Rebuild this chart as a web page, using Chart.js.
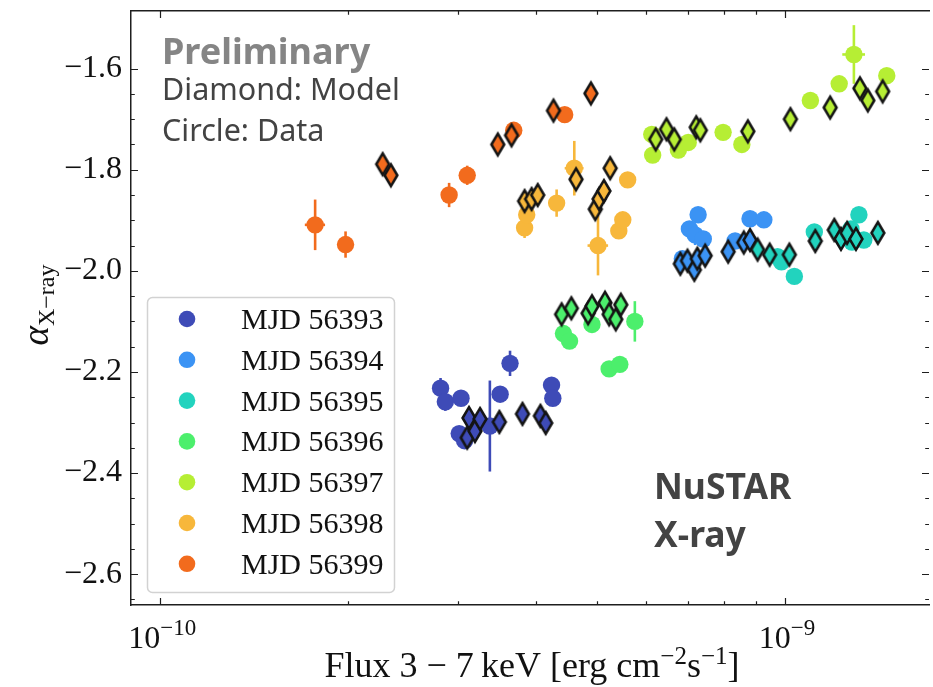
<!DOCTYPE html>
<html>
<head>
<meta charset="utf-8">
<script src="https://cdn.jsdelivr.net/npm/chart.js@4.4.1/dist/chart.umd.min.js"></script>
<style>
  html, body { margin: 0; padding: 0; background: #fff; overflow: hidden; width: 933px; height: 687px; }
  canvas { display: block; }
</style>
</head>
<body>
<canvas id="chart" width="940" height="687"></canvas>
<script>
// Observation days and their colours
const days = ['MJD 56393', 'MJD 56394', 'MJD 56395', 'MJD 56396', 'MJD 56397', 'MJD 56398', 'MJD 56399'];
const dayColors = ['#3e4bb7', '#3b93f4', '#22d3be', '#4cef6c', '#b6ee34', '#f7b73b', '#f26b1d'];

// Measured points: [flux 3-7 keV, alpha, alpha error, flux error]
const data56393 = [
  [2.81e-10, -2.232, 0.020, 0], [2.86e-10, -2.259, 0.018, 0], [3.03e-10, -2.252, 0.015, 0],
  [3.01e-10, -2.322, 0.012, 0], [3.07e-10, -2.336, 0.015, 0], [3.37e-10, -2.307, 0.090, 0],
  [3.50e-10, -2.244, 0.012, 0], [3.63e-10, -2.183, 0.025, 0], [4.23e-10, -2.226, 0.010, 0],
  [4.25e-10, -2.252, 0.012, 0]
];
const data56394 = [
  [7.26e-10, -1.889, 0, 0], [7.03e-10, -1.917, 0, 0], [7.18e-10, -1.929, 0.020, 0],
  [7.40e-10, -1.937, 0, 0], [6.85e-10, -1.976, 0, 0], [8.32e-10, -1.941, 0, 0],
  [8.79e-10, -1.897, 0, 0], [9.25e-10, -1.899, 0, 0]
];
const data56395 = [
  [9.73e-10, -1.972, 0, 0], [9.87e-10, -1.982, 0, 0], [10.35e-10, -2.011, 0, 0],
  [11.14e-10, -1.923, 0, 0], [12.75e-10, -1.917, 0, 0], [12.80e-10, -1.943, 0, 0],
  [13.13e-10, -1.889, 0, 0], [13.37e-10, -1.939, 0, 0]
];
const data56396 = [
  [4.42e-10, -2.124, 0, 0], [4.52e-10, -2.139, 0, 0], [4.91e-10, -2.106, 0, 0],
  [5.23e-10, -2.194, 0, 0], [5.44e-10, -2.185, 0, 0], [5.75e-10, -2.100, 0.040, 0]
];
const data56397 = [
  [6.12e-10, -1.730, 0, 0], [6.14e-10, -1.771, 0, 0], [6.75e-10, -1.761, 0, 0],
  [7.00e-10, -1.746, 0, 0], [7.96e-10, -1.726, 0, 0], [8.53e-10, -1.750, 0, 0],
  [10.98e-10, -1.663, 0, 0], [12.21e-10, -1.630, 0, 0], [12.89e-10, -1.572, 0.058, 0.54e-10],
  [14.55e-10, -1.614, 0, 0]
];
const data56398 = [
  [3.83e-10, -1.915, 0.020, 0], [3.86e-10, -1.889, 0, 0], [4.31e-10, -1.866, 0.027, 0],
  [4.60e-10, -1.797, 0.054, 0.16e-10], [5.02e-10, -1.950, 0.059, 0.19e-10], [5.42e-10, -1.921, 0, 0],
  [5.50e-10, -1.899, 0, 0], [5.60e-10, -1.820, 0, 0]
];
const data56399 = [
  [1.77e-10, -1.909, 0.050, 0.066e-10], [1.98e-10, -1.948, 0.026, 0], [2.90e-10, -1.850, 0.024, 0],
  [3.10e-10, -1.811, 0.019, 0], [3.68e-10, -1.722, 0.010, 0], [4.44e-10, -1.691, 0, 0]
];

// Model points: [flux 3-7 keV, alpha]
const model56393 = [
  [3.10e-10, -2.330], [3.12e-10, -2.291], [3.19e-10, -2.317], [3.25e-10, -2.293],
  [3.49e-10, -2.299], [3.80e-10, -2.283], [4.06e-10, -2.287], [4.14e-10, -2.301]
];
const model56394 = [
  [6.80e-10, -1.986], [6.98e-10, -1.980], [7.16e-10, -1.998], [7.24e-10, -1.976],
  [7.45e-10, -1.970], [8.11e-10, -1.962], [8.59e-10, -1.944], [8.79e-10, -1.939]
];
const model56395 = [
  [9.04e-10, -1.958], [9.45e-10, -1.968], [10.16e-10, -1.968], [11.18e-10, -1.941],
  [11.99e-10, -1.919], [12.29e-10, -1.937], [12.57e-10, -1.925], [12.99e-10, -1.937],
  [14.08e-10, -1.925]
];
const model56396 = [
  [4.39e-10, -2.086], [4.55e-10, -2.074], [4.84e-10, -2.084], [4.91e-10, -2.070],
  [5.15e-10, -2.063], [5.23e-10, -2.086], [5.36e-10, -2.096], [5.46e-10, -2.067]
];
const model56397 = [
  [6.21e-10, -1.740], [6.46e-10, -1.720], [6.65e-10, -1.740], [7.21e-10, -1.716],
  [7.32e-10, -1.722], [8.72e-10, -1.724], [10.20e-10, -1.700], [11.81e-10, -1.677],
  [13.18e-10, -1.639], [13.57e-10, -1.663], [14.33e-10, -1.645]
];
const model56398 = [
  [3.83e-10, -1.862], [3.93e-10, -1.858], [4.02e-10, -1.850], [4.63e-10, -1.819],
  [4.97e-10, -1.878], [5.04e-10, -1.858], [5.13e-10, -1.842], [5.25e-10, -1.797]
];
const model56399 = [
  [2.27e-10, -1.789], [2.34e-10, -1.811], [3.47e-10, -1.750], [3.65e-10, -1.732],
  [4.26e-10, -1.683], [4.89e-10, -1.649]
];

const measuredByDay = [data56393, data56394, data56395, data56396, data56397, data56398, data56399];
const modelByDay = [model56393, model56394, model56395, model56396, model56397, model56398, model56399];

// Axis ranges and ticks
const fluxMin = 0.898e-10, fluxMax = 17.0e-10;
const alphaMin = -2.661, alphaMax = -1.486;
const alphaTicks = [-2.6, -2.4, -2.2, -2.0, -1.8, -1.6];
const fluxMajorTicks = [1e-10, 1e-9];
const fluxTickExponents = ['\u221210', '\u22129'];

const SERIF = "'Liberation Serif', 'Times New Roman', serif";
const SANS = "'Noto Sans', 'Open Sans', sans-serif";
const AXIS_COLOR = '#1e1e1e';

// Thin diamond marker with a black edge
function diamondMarker(fill) {
  const w = 22, h = 32;
  const c = document.createElement('canvas');
  c.width = w; c.height = h;
  const g = c.getContext('2d');
  const hw = 6.4, hh = 10.8, cx = w / 2, cy = h / 2;
  g.beginPath();
  g.moveTo(cx, cy - hh); g.lineTo(cx + hw, cy); g.lineTo(cx, cy + hh); g.lineTo(cx - hw, cy);
  g.closePath();
  g.fillStyle = fill; g.fill();
  g.lineJoin = 'miter'; g.lineWidth = 2.6; g.strokeStyle = '#141414'; g.stroke();
  return c;
}

const datasets = [];
let drawIndex = 0;
days.forEach((day, i) => {
  const rows = measuredByDay[i];
  datasets.push({
    label: day,
    data: rows.map(r => ({ x: r[0], y: r[1] })),
    errors: rows.map(r => ({ dy: r[2], dx: r[3] })),
    backgroundColor: dayColors[i],
    borderWidth: 0,
    pointRadius: 8.7,
    pointStyle: 'circle',
    order: 100 - (drawIndex++)
  });
  datasets.push({
    label: day + ' model',
    data: modelByDay[i].map(r => ({ x: r[0], y: r[1] })),
    backgroundColor: dayColors[i],
    pointStyle: diamondMarker(dayColors[i]),
    pointRadius: 10,
    order: 100 - (drawIndex++)
  });
});

// Draw a run of text pieces (plain, superscript, subscript) starting at x on baseline y
function richWidth(ctx, parts) {
  let w = 0;
  parts.forEach(p => { ctx.font = p.font; w += ctx.measureText(p.text).width; });
  return w;
}
function drawRich(ctx, parts, x, y, align) {
  let cx = align === 'center' ? x - richWidth(ctx, parts) / 2 : x;
  ctx.textAlign = 'left';
  ctx.textBaseline = 'alphabetic';
  parts.forEach(p => {
    ctx.font = p.font;
    ctx.fillText(p.text, cx, y + (p.dy || 0));
    cx += ctx.measureText(p.text).width;
  });
}

const decorations = {
  id: 'decorations',
  beforeDatasetDraw(chart, args) {
    const ds = chart.data.datasets[args.index];
    if (!ds.errors) return;
    const ctx = chart.ctx, xs = chart.scales.x, ys = chart.scales.y;
    ctx.save();
    ctx.strokeStyle = ds.backgroundColor;
    ctx.lineWidth = 2.6;
    ds.data.forEach((p, k) => {
      const e = ds.errors[k];
      const px = xs.getPixelForValue(p.x), py = ys.getPixelForValue(p.y);
      if (e.dy > 0) {
        ctx.beginPath();
        ctx.moveTo(px, ys.getPixelForValue(p.y - e.dy));
        ctx.lineTo(px, ys.getPixelForValue(p.y + e.dy));
        ctx.stroke();
      }
      if (e.dx > 0) {
        ctx.beginPath();
        ctx.moveTo(xs.getPixelForValue(p.x - e.dx), py);
        ctx.lineTo(xs.getPixelForValue(p.x + e.dx), py);
        ctx.stroke();
      }
    });
    ctx.restore();
  },
  afterDraw(chart) {
    const ctx = chart.ctx, xs = chart.scales.x, ys = chart.scales.y;
    const a = chart.chartArea;
    ctx.save();

    // inward tick marks on all four sides
    ctx.strokeStyle = AXIS_COLOR;
    ctx.lineWidth = 1.2;
    const majorLen = 7, minorLen = 3.8;
    const tickX = (v, len) => {
      const px = Math.round(xs.getPixelForValue(v)) + 0.5;
      ctx.beginPath();
      ctx.moveTo(px, a.bottom); ctx.lineTo(px, a.bottom - len);
      ctx.moveTo(px, a.top); ctx.lineTo(px, a.top + len);
      ctx.stroke();
    };
    const tickY = (v, len) => {
      const py = Math.round(ys.getPixelForValue(v)) + 0.5;
      ctx.beginPath();
      ctx.moveTo(a.left, py); ctx.lineTo(a.left + len, py);
      ctx.moveTo(a.right, py); ctx.lineTo(a.right - len, py);
      ctx.stroke();
    };
    [1e-10, 1e-9].forEach(decade => {
      for (let m = 1; m <= 9; m++) {
        const v = m * decade;
        if (v < fluxMin || v > fluxMax) continue;
        tickX(v, m === 1 ? majorLen : minorLen);
      }
    });
    for (let k = 0; k <= 21; k++) {
      const v = -2.65 + k * 0.05;
      if (v < alphaMin || v > alphaMax) continue;
      const isMajor = alphaTicks.some(t => Math.abs(t - v) < 1e-6);
      tickY(v, isMajor ? majorLen : minorLen);
    }

    // flux tick labels: 10 with a raised exponent
    ctx.fillStyle = '#111';
    fluxMajorTicks.forEach((v, i) => {
      const px = xs.getPixelForValue(v);
      drawRich(ctx, [
        { text: '10', font: `32px ${SERIF}` },
        { text: fluxTickExponents[i], font: `23px ${SERIF}`, dy: -13 }
      ], px + 2, 648, 'center');
    });

    // x axis title
    drawRich(ctx, [
      { text: 'Flux 3 \u2212 7\u2009keV [erg cm', font: `36px ${SERIF}` },
      { text: '\u22122', font: `25px ${SERIF}`, dy: -13 },
      { text: 's', font: `36px ${SERIF}` },
      { text: '\u22121', font: `25px ${SERIF}`, dy: -13 },
      { text: ']', font: `36px ${SERIF}` }
    ], 532, 677, 'center');

    // y axis title, rotated
    ctx.save();
    ctx.translate(48, 305);
    ctx.rotate(-Math.PI / 2);
    drawRich(ctx, [
      { text: '\u03b1', font: `italic 37px ${SERIF}` },
      { text: 'X\u2212ray', font: `24px ${SERIF}`, dy: 6 }
    ], 0, 0, 'center');
    ctx.restore();

    // legend box
    const lx = 147, ly = 297, lw = 247, lh = 295;
    ctx.beginPath();
    ctx.roundRect(lx + 0.5, ly + 0.5, lw, lh, 5);
    ctx.fillStyle = 'rgba(255,255,255,0.85)';
    ctx.fill();
    ctx.strokeStyle = '#d2d2d2';
    ctx.lineWidth = 1.5;
    ctx.stroke();
    days.forEach((day, i) => {
      const cy = 319 + i * 40.8;
      ctx.beginPath();
      ctx.arc(187, cy, 8.3, 0, Math.PI * 2);
      ctx.fillStyle = dayColors[i];
      ctx.fill();
      ctx.fillStyle = '#111';
      ctx.font = `30px ${SERIF}`;
      ctx.textAlign = 'left';
      ctx.textBaseline = 'alphabetic';
      ctx.fillText(day, 241, cy + 10);
    });

    // annotations
    ctx.textAlign = 'left';
    ctx.textBaseline = 'alphabetic';
    ctx.fillStyle = '#858585';
    ctx.font = `bold 36px ${SANS}`;
    ctx.fillText('Preliminary', 162, 64);
    ctx.fillStyle = '#434343';
    ctx.font = `30.5px ${SANS}`;
    ctx.fillText('Diamond: Model', 162, 100);
    ctx.fillText('Circle: Data', 162, 141);
    ctx.font = `bold 35.5px ${SANS}`;
    ctx.fillText('NuSTAR', 654, 499);
    ctx.fillText('X-ray', 654, 547);

    ctx.restore();
  }
};

new Chart(document.getElementById('chart'), {
  type: 'scatter',
  data: { datasets },
  options: {
    responsive: false,
    animation: false,
    events: [],
    layout: { padding: { left: 0, right: 4, top: 0, bottom: 0 } },
    plugins: { legend: { display: false }, tooltip: { enabled: false } },
    scales: {
      x: {
        type: 'logarithmic', position: 'bottom', min: fluxMin, max: fluxMax,
        grid: { display: false, drawTicks: false },
        border: { display: true, color: AXIS_COLOR, width: 1.5 },
        ticks: { display: false },
        afterFit(s) { s.height = 82; s.paddingLeft = 0; s.paddingRight = 0; }
      },
      xTop: {
        type: 'logarithmic', position: 'top', min: fluxMin, max: fluxMax,
        grid: { display: false, drawTicks: false },
        border: { display: true, color: AXIS_COLOR, width: 1.5 },
        ticks: { display: false },
        afterFit(s) { s.height = 8; s.paddingLeft = 0; s.paddingRight = 0; }
      },
      y: {
        type: 'linear', position: 'left', min: alphaMin, max: alphaMax,
        grid: { display: false, drawTicks: false },
        border: { display: true, color: AXIS_COLOR, width: 1.5 },
        afterBuildTicks(s) { s.ticks = alphaTicks.map(v => ({ value: v })); },
        ticks: {
          padding: 9,
          color: '#111',
          font: { family: SERIF, size: 32 },
          callback: v => '\u2212' + Math.abs(v).toFixed(1)
        },
        afterFit(s) { s.width = 131; s.paddingTop = 0; s.paddingBottom = 0; }
      }
    }
  },
  plugins: [decorations]
});
</script>
</body>
</html>
